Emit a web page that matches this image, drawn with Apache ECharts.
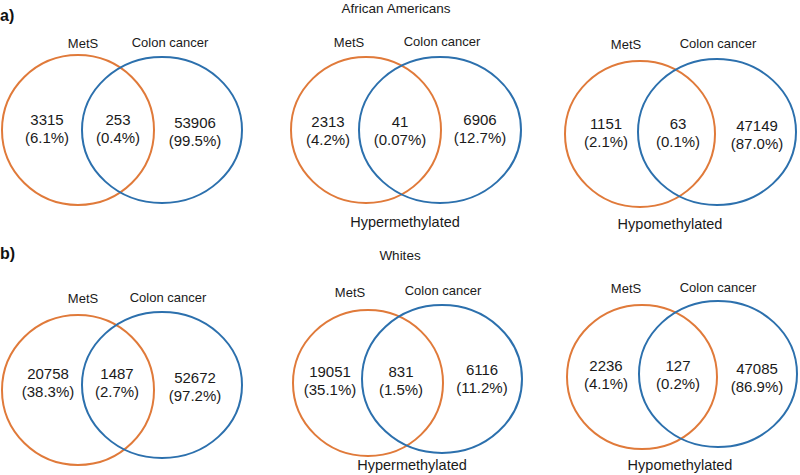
<!DOCTYPE html>
<html>
<head>
<meta charset="utf-8">
<script src="https://cdn.jsdelivr.net/npm/echarts@6/dist/echarts.min.js"></script>
<style>html,body{margin:0;padding:0;background:#fff}#c{width:800px;height:475px}</style>
</head>
<body>
<div id="c"></div>
<script>
// ---- data ----
const setNames = ['MetS', 'Colon cancer'];
const groupTitles = ['African Americans', 'Whites'];
const rowTags = ['a)', 'b)'];
const subtitles = ['', 'Hypermethylated', 'Hypomethylated', '', 'Hypermethylated', 'Hypomethylated'];
const metsOnly = [3315, 2313, 1151, 20758, 19051, 2236];
const metsOnlyPct = ['6.1%', '4.2%', '2.1%', '38.3%', '35.1%', '4.1%'];
const overlap = [253, 41, 63, 1487, 831, 127];
const overlapPct = ['0.4%', '0.07%', '0.1%', '2.7%', '1.5%', '0.2%'];
const colonOnly = [53906, 6906, 47149, 52672, 6116, 47085];
const colonOnlyPct = ['99.5%', '12.7%', '87.0%', '97.2%', '11.2%', '86.9%'];

// ---- layout (pixel space of the 800x475 canvas) ----
const layout = [
  {o: [78, 130, 76, 75], b: [162, 130, 80, 73], n: [[47, 128], [118, 128], [195, 131]], l: [[83, 43], [170, 42]], s: null},
  {o: [366, 130, 75, 73], b: [440, 130, 81, 73], n: [[328, 130], [400, 130], [480, 128]], l: [[349, 42], [442, 41]], s: [405, 222]},
  {o: [640, 134, 75, 73], b: [717, 132, 79, 73], n: [[606, 132], [678, 132], [757, 134]], l: [[626, 44], [718, 43]], s: [670, 224]},
  {o: [78, 390, 76, 75], b: [162, 385, 80, 73], n: [[48, 382], [117, 382], [195, 386]], l: [[83, 298], [168, 297]], s: null},
  {o: [368, 383, 75, 73], b: [442, 379, 80, 74], n: [[330, 380], [401, 380], [482, 378]], l: [[350, 292], [443, 290]], s: [412, 465]},
  {o: [642, 377, 75, 72], b: [718, 374, 79, 73], n: [[606, 374], [678, 374], [757, 377]], l: [[626, 288], [718, 287]], s: [680, 465]}
];
const titleLayout = [[396, 8], [400, 255]];
const tagLayout = [[10, 15], [10, 253]];

const ORANGE = '#E07A3A';
const BLUE = '#2C70AD';
const FONT = 'Liberation Sans, Arial, sans-serif';

const data = metsOnly.map((v, i) => [i, v, overlap[i], colonOnly[i]]);

const chart = echarts.init(document.getElementById('c'), null, {renderer: 'svg'});

function renderItem(params, api) {
  const i = api.value(0);
  const L = layout[i];
  const children = [];
  const ell = (e, color) => {
    const c = api.coord([e[0], e[1]]);
    const sz = api.size([e[2], e[3]]);
    return {type: 'ellipse', shape: {cx: c[0], cy: c[1], rx: sz[0], ry: sz[1]},
            style: {fill: 'none', stroke: color, lineWidth: 2}};
  };
  children.push(ell(L.o, ORANGE));
  children.push(ell(L.b, BLUE));
  const txt = (p, text, size, weight) => {
    const c = api.coord(p);
    return {type: 'text', x: c[0], y: c[1],
            style: {text: text, fill: '#1a1a1a', font: (weight || 'normal') + ' ' + size + 'px ' + FONT,
                    align: 'center', verticalAlign: 'middle', lineHeight: 18}};
  };
  children.push(txt(L.n[0], api.value(1) + '\n(' + metsOnlyPct[i] + ')', 15));
  children.push(txt(L.n[1], api.value(2) + '\n(' + overlapPct[i] + ')', 15));
  children.push(txt(L.n[2], api.value(3) + '\n(' + colonOnlyPct[i] + ')', 15));
  children.push(txt(L.l[0], setNames[0], 13));
  children.push(txt(L.l[1], setNames[1], 13));
  if (L.s && subtitles[i]) children.push(txt(L.s, subtitles[i], 14.5));
  if (i % 3 === 1) {
    const r = (i - 1) / 3;
    children.push(txt(titleLayout[r], groupTitles[r], 13.5));
  }
  if (i % 3 === 0) {
    const r = i / 3;
    const c = api.coord(tagLayout[r]);
    children.push({type: 'text', x: c[0] - 10, y: c[1],
      style: {text: rowTags[r], fill: '#111', font: 'bold 16px ' + FONT, align: 'left', verticalAlign: 'middle'}});
  }
  return {type: 'group', children: children};
}

chart.setOption({
  animation: false,
  backgroundColor: '#fff',
  grid: {left: 0, right: 0, top: 0, bottom: 0},
  xAxis: {type: 'value', min: 0, max: 800, show: false},
  yAxis: {type: 'value', min: 0, max: 475, inverse: true, show: false},
  series: [{
    type: 'custom',
    coordinateSystem: 'cartesian2d',
    renderItem: renderItem,
    clip: false,
    encode: {x: 0, y: 1},
    data: data
  }]
});
</script>
</body>
</html>
